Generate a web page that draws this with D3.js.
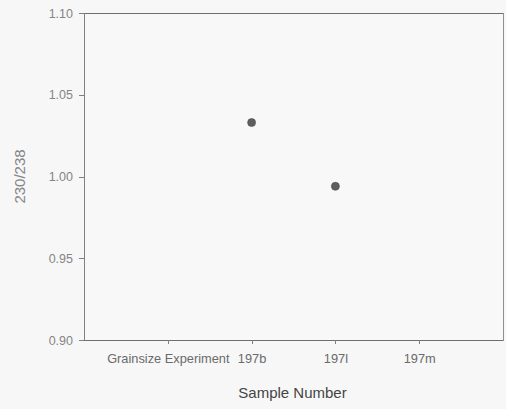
<!DOCTYPE html>
<html>
<head>
<meta charset="utf-8">
<script src="https://cdn.jsdelivr.net/npm/d3@7"></script>
<style>
  html, body { margin: 0; padding: 0; background: #f7f7f7; }
  svg { display: block; font-family: "Liberation Sans", Arial, sans-serif; }
</style>
</head>
<body>
<svg id="chart" width="506" height="409"></svg>
<script>
// Sample categories along the x axis (one empty slot on each side)
const categories = ["Grainsize Experiment", "197b", "197l", "197m"];
// Measured 230Th/238U activity ratios per sample (null = no measurement)
const ratios = [null, 1.033, 0.994, null];
// Y-axis tick values
const yTicks = [0.90, 0.95, 1.00, 1.05, 1.10];

const svg = d3.select("#chart");
const margin = { left: 84, right: 3, top: 13, bottom: 69 };
const width = 506 - margin.left - margin.right;
const height = 409 - margin.top - margin.bottom;

const g = svg.append("g").attr("transform", `translate(${margin.left},${margin.top})`);

// Categories sit at positions 1..4 of a 0..5 range
const x = d3.scalePoint().domain(categories).range([width / 5, width * 4 / 5]);
const y = d3.scaleLinear().domain([0.90, 1.10]).range([height, 0]);

// Frame
g.append("rect")
  .attr("x", 0).attr("y", 0)
  .attr("width", width).attr("height", height)
  .attr("fill", "#f8f8f8")
  .attr("stroke", "#909090")
  .attr("stroke-width", 1)
  .attr("shape-rendering", "crispEdges");
// Slightly heavier top edge
g.append("line")
  .attr("x1", 0).attr("x2", width).attr("y1", 0).attr("y2", 0)
  .attr("stroke", "#6e6e6e").attr("shape-rendering", "crispEdges");

// Y axis
const yAxis = g.append("g")
  .call(d3.axisLeft(y).tickValues(yTicks).tickFormat(d3.format(".2f")).tickSize(5).tickPadding(6));
yAxis.select(".domain").attr("stroke", "#808080").attr("shape-rendering", "crispEdges");
yAxis.selectAll(".tick line").attr("stroke", "#808080").attr("shape-rendering", "crispEdges");
yAxis.selectAll(".tick text").attr("fill", "#858585").attr("font-size", 12.5)
  .attr("font-family", "Liberation Sans, Arial, sans-serif");

// X axis
const xAxis = g.append("g")
  .attr("transform", `translate(0,${height})`)
  .call(d3.axisBottom(x).tickSize(4).tickPadding(10));
xAxis.select(".domain").attr("stroke", "#6e6e6e").attr("d", `M0,0H${width}`).attr("shape-rendering", "crispEdges");
xAxis.selectAll(".tick line").attr("stroke", "#808080").attr("shape-rendering", "crispEdges");
xAxis.selectAll(".tick text").attr("fill", "#6a6a6a").attr("font-size", 12.8)
  .attr("font-family", "Liberation Sans, Arial, sans-serif");

// Data points
g.selectAll("circle.pt")
  .data(categories.map((c, i) => ({ c, v: ratios[i] })).filter(d => d.v != null))
  .enter().append("circle")
  .attr("class", "pt")
  .attr("cx", d => x(d.c))
  .attr("cy", d => y(d.v))
  .attr("r", 4)
  .attr("fill", "#5e5e5e")
  .attr("stroke", "#4a4a4a")
  .attr("stroke-width", 0.6);

// Axis titles
svg.append("text")
  .attr("x", margin.left + width / 2 - 1)
  .attr("y", 398)
  .attr("text-anchor", "middle")
  .attr("fill", "#444")
  .attr("font-size", 15)
  .text("Sample Number");

svg.append("text")
  .attr("transform", `translate(25,${margin.top + y(1.00)}) rotate(-90)`)
  .attr("text-anchor", "middle")
  .attr("fill", "#858585")
  .attr("font-size", 15)
  .text("230/238");
</script>
</body>
</html>
